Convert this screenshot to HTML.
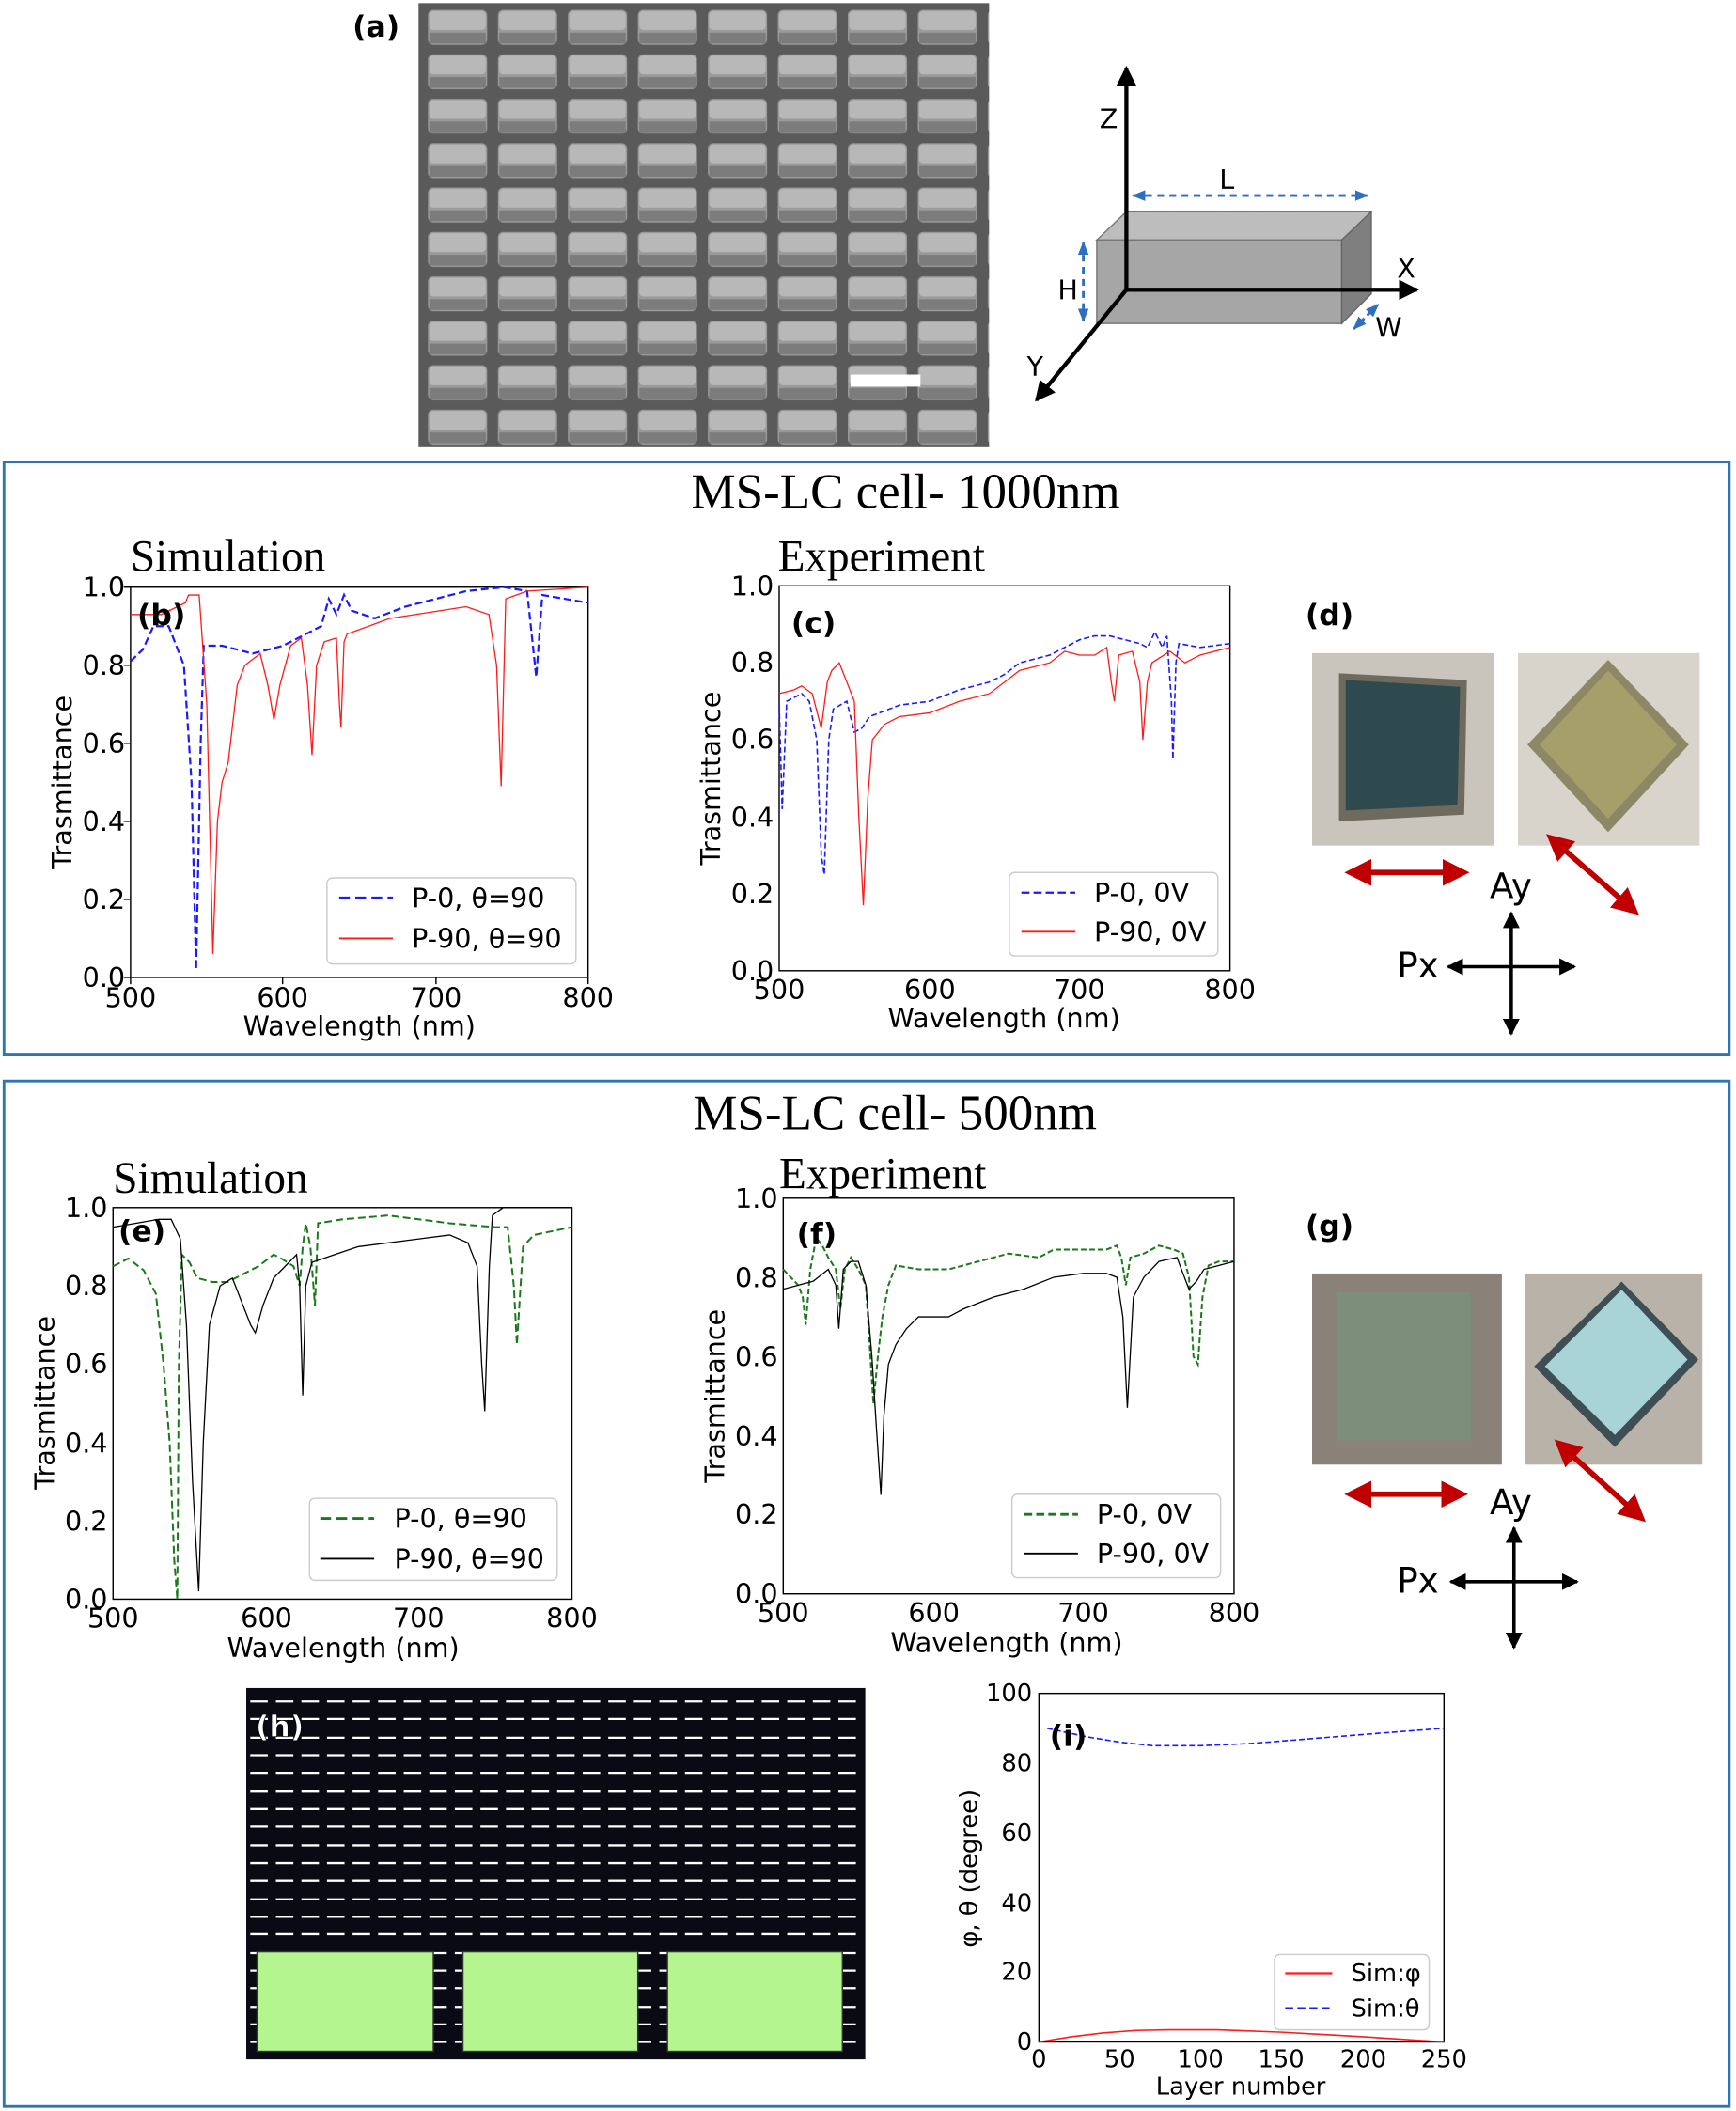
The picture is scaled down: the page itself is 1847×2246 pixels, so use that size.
<!DOCTYPE html>
<html><head><meta charset="utf-8"><style>
html,body{margin:0;padding:0;background:#fff}
svg{display:block}
text{font-family:"DejaVu Sans","Liberation Sans",sans-serif;fill:#000}
.s{font-family:"Liberation Serif",serif}
.d{vector-effect:non-scaling-stroke;fill:none}
</style></head><body>
<svg width="1847" height="2246" viewBox="0 0 1290 1568" xmlns="http://www.w3.org/2000/svg">
<defs>
<pattern id="sem" x="311" y="2" width="52" height="33" patternUnits="userSpaceOnUse">
<rect width="52" height="33" fill="#5a5a5a"/>
<rect x="7" y="5" width="44" height="26" rx="4" fill="#9a9a9a"/>
<rect x="8" y="6" width="42" height="14" rx="3" fill="#b8b8b8"/>
<rect x="8" y="22" width="42" height="8" fill="#7c7c7c"/>
</pattern>
<marker id="ab" markerWidth="5" markerHeight="5" refX="4.5" refY="2.5" orient="auto-start-reverse"><path d="M0,0L5,2.5L0,5z" fill="#000"/></marker>
<marker id="abl" markerWidth="5" markerHeight="5" refX="4.5" refY="2.5" orient="auto-start-reverse"><path d="M0,0.5L5,2.5L0,4.5z" fill="#2e6fc0"/></marker>
<marker id="ar" markerWidth="5" markerHeight="5" refX="4" refY="2.5" orient="auto-start-reverse"><path d="M0,0L5,2.5L0,5z" fill="#c00000"/></marker>
</defs>

<!-- (a) -->
<text x="262" y="27" font-size="22" font-weight="bold">(a)</text>
<rect x="311" y="2" width="424" height="330" fill="url(#sem)"/>
<rect x="632" y="278" width="52" height="9" fill="#fff"/>
<polygon points="815,178 837,157 1019,157 997,178" fill="#bdbdbd" stroke="#777"/>
<polygon points="815,178 997,178 997,240 815,240" fill="#a6a6a6" stroke="#777"/>
<polygon points="997,178 1019,157 1019,218 997,240" fill="#7f7f7f" stroke="#666"/>
<line x1="837" y1="215" x2="837" y2="50" stroke="#000" stroke-width="3" marker-end="url(#ab)"/>
<line x1="837" y1="215" x2="1053" y2="215" stroke="#000" stroke-width="3" marker-end="url(#ab)"/>
<line x1="837" y1="215" x2="770" y2="297" stroke="#000" stroke-width="3" marker-end="url(#ab)"/>
<line x1="842" y1="145" x2="1016" y2="145" stroke="#2e6fc0" stroke-width="2" stroke-dasharray="5,4" marker-start="url(#abl)" marker-end="url(#abl)"/>
<line x1="805" y1="180" x2="805" y2="238" stroke="#2e6fc0" stroke-width="2" stroke-dasharray="5,4" marker-start="url(#abl)" marker-end="url(#abl)"/>
<line x1="1006" y1="244" x2="1024" y2="226" stroke="#2e6fc0" stroke-width="2" stroke-dasharray="4,3" marker-start="url(#abl)" marker-end="url(#abl)"/>
<text x="817" y="95" font-size="20">Z</text>
<text x="906" y="140" font-size="20">L</text>
<text x="1038" y="206" font-size="20">X</text>
<text x="786" y="222" font-size="20">H</text>
<text x="1022" y="250" font-size="20">W</text>
<text x="763" y="279" font-size="20">Y</text>

<!-- Box 1 -->
<rect x="3" y="343" width="1282" height="440" fill="none" stroke="#2e75b6" stroke-width="2"/>
<text class="s" x="673" y="377" font-size="37" text-anchor="middle">MS-LC cell- 1000nm</text>

<!-- plot b -->
<text class="s" x="97" y="424" font-size="33">Simulation</text>
<rect x="97" y="436" width="340" height="290" fill="none" stroke="#000"/>
<g font-size="20" text-anchor="end">
<text x="93" y="733">0.0</text><text x="93" y="675">0.2</text><text x="93" y="617">0.4</text><text x="93" y="559">0.6</text><text x="93" y="501">0.8</text><text x="93" y="443">1.0</text>
</g>
<g stroke="#000"><line x1="92" y1="726" x2="97" y2="726"/><line x1="92" y1="668" x2="97" y2="668"/><line x1="92" y1="610" x2="97" y2="610"/><line x1="92" y1="552" x2="97" y2="552"/><line x1="92" y1="494" x2="97" y2="494"/><line x1="92" y1="436" x2="97" y2="436"/>
<line x1="97" y1="726" x2="97" y2="731"/><line x1="210" y1="726" x2="210" y2="731"/><line x1="324" y1="726" x2="324" y2="731"/><line x1="437" y1="726" x2="437" y2="731"/></g>
<g font-size="20" text-anchor="middle"><text x="97" y="748">500</text><text x="210" y="748">600</text><text x="324" y="748">700</text><text x="437" y="748">800</text></g>
<text x="267" y="769" font-size="20" text-anchor="middle">Wavelength (nm)</text>
<text transform="translate(53,581) rotate(-90)" font-size="20" text-anchor="middle">Trasmittance</text>
<g transform="translate(97,726) scale(1.1333,-290)">
<polyline class="d" stroke="#1a1aff" stroke-width="2.2" stroke-dasharray="8,4" points="0,0.81 8,0.84 15,0.9 25,0.9 35,0.8 40,0.5 43,0.02 46,0.6 48,0.85 60,0.85 80,0.83 100,0.85 115,0.88 125,0.9 130,0.97 135,0.93 140,0.98 145,0.94 160,0.92 180,0.95 220,0.99 245,1.0 260,0.99 266,0.77 270,0.98 300,0.96"/>
<polyline class="d" stroke="#ff1a1a" stroke-width="1.3" points="0,0.93 20,0.93 36,0.96 38,0.98 45,0.98 50,0.7 54,0.06 57,0.4 60,0.5 64,0.55 70,0.75 75,0.8 85,0.83 90,0.75 94,0.66 98,0.75 105,0.85 112,0.87 116,0.75 119,0.57 122,0.8 127,0.86 135,0.87 137,0.7 138,0.64 140,0.86 142,0.88 170,0.92 220,0.95 235,0.93 240,0.8 243,0.49 246,0.97 260,0.99 300,1.0"/>
</g>
<text x="102" y="464" font-size="22" font-weight="bold">(b)</text>
<rect x="243" y="652" width="185" height="64" rx="4" fill="#fff" stroke="#ccc"/>
<line x1="252" y1="667" x2="292" y2="667" stroke="#1a1aff" stroke-width="2.2" stroke-dasharray="8,4"/>
<line x1="252" y1="697" x2="292" y2="697" stroke="#ff1a1a" stroke-width="1.3"/>
<text x="306" y="674" font-size="20">P-0, θ=90</text>
<text x="306" y="704" font-size="20">P-90, θ=90</text>

<!-- plot c -->
<text class="s" x="578" y="424" font-size="33">Experiment</text>
<rect x="579" y="435" width="335" height="286" fill="none" stroke="#000"/>
<g font-size="20" text-anchor="end">
<text x="575" y="728">0.0</text><text x="575" y="671">0.2</text><text x="575" y="614">0.4</text><text x="575" y="556">0.6</text><text x="575" y="499">0.8</text><text x="575" y="442">1.0</text>
</g>
<g font-size="20" text-anchor="middle"><text x="579" y="742">500</text><text x="691" y="742">600</text><text x="802" y="742">700</text><text x="914" y="742">800</text></g>
<text x="746" y="763" font-size="20" text-anchor="middle">Wavelength (nm)</text>
<text transform="translate(535,578) rotate(-90)" font-size="20" text-anchor="middle">Trasmittance</text>
<g transform="translate(579,721) scale(1.1167,-286)">
<polyline class="d" stroke="#1a1aff" stroke-width="1.6" stroke-dasharray="6,3" points="0,0.69 2,0.42 5,0.7 10,0.71 15,0.72 20,0.7 25,0.6 28,0.3 30,0.25 33,0.6 36,0.68 45,0.7 50,0.62 55,0.63 60,0.66 80,0.69 100,0.7 120,0.73 140,0.75 150,0.77 160,0.8 180,0.82 200,0.86 210,0.87 220,0.87 230,0.86 240,0.85 245,0.84 250,0.88 255,0.84 258,0.87 261,0.7 262,0.55 264,0.8 266,0.85 280,0.84 300,0.85"/>
<polyline class="d" stroke="#ff1a1a" stroke-width="1.3" points="0,0.72 10,0.73 15,0.74 22,0.72 26,0.66 28,0.63 32,0.75 35,0.78 40,0.8 45,0.75 50,0.7 53,0.4 56,0.17 59,0.45 62,0.6 70,0.64 80,0.66 100,0.67 120,0.7 140,0.72 160,0.78 180,0.8 190,0.83 200,0.82 210,0.82 218,0.84 221,0.75 223,0.7 226,0.82 235,0.83 240,0.75 242,0.6 245,0.75 248,0.8 260,0.83 270,0.8 280,0.82 290,0.83 300,0.84"/>
</g>
<text x="588" y="470" font-size="22" font-weight="bold">(c)</text>
<rect x="750" y="648" width="155" height="62" rx="4" fill="#fff" stroke="#ccc"/>
<line x1="759" y1="663" x2="799" y2="663" stroke="#1a1aff" stroke-width="1.6" stroke-dasharray="6,3"/>
<line x1="759" y1="692" x2="799" y2="692" stroke="#ff1a1a" stroke-width="1.3"/>
<text x="813" y="670" font-size="20">P-0, 0V</text>
<text x="813" y="699" font-size="20">P-90, 0V</text>

<!-- d -->
<text x="970" y="464" font-size="22" font-weight="bold">(d)</text>
<rect x="975" y="485" width="135" height="143" fill="#c9c4bc"/>
<polygon points="995,500 1090,505 1088,605 995,610" fill="#6e6a5e"/>
<polygon points="1000,505 1085,510 1083,598 1000,602" fill="#2f4a4e"/>
<rect x="1128" y="485" width="135" height="143" fill="#d8d4cc"/>
<polygon points="1195,490 1255,553 1195,618 1135,553" fill="#8c8764"/>
<polygon points="1195,498 1246,553 1195,608 1144,553" fill="#a5a069"/>
<line x1="1003" y1="648" x2="1088" y2="648" stroke="#c00000" stroke-width="4" marker-start="url(#ar)" marker-end="url(#ar)"/>
<line x1="1152" y1="622" x2="1215" y2="677" stroke="#c00000" stroke-width="4" marker-start="url(#ar)" marker-end="url(#ar)"/>
<text x="1107" y="667" font-size="26">Ay</text>
<text x="1038" y="726" font-size="26">Px</text>
<line x1="1123" y1="768" x2="1123" y2="678" stroke="#000" stroke-width="2.5" marker-start="url(#ab)" marker-end="url(#ab)"/>
<line x1="1076" y1="718" x2="1170" y2="718" stroke="#000" stroke-width="2.5" marker-start="url(#ab)" marker-end="url(#ab)"/>

<!-- Box 2 -->
<rect x="3" y="803" width="1282" height="762" fill="none" stroke="#2e75b6" stroke-width="2"/>
<text class="s" x="665" y="839" font-size="37" text-anchor="middle">MS-LC cell- 500nm</text>

<!-- plot e -->
<text class="s" x="84" y="886" font-size="33">Simulation</text>
<rect x="84" y="897" width="341" height="291" fill="none" stroke="#000"/>
<g font-size="20" text-anchor="end">
<text x="80" y="1195">0.0</text><text x="80" y="1137">0.2</text><text x="80" y="1079">0.4</text><text x="80" y="1020">0.6</text><text x="80" y="962">0.8</text><text x="80" y="904">1.0</text>
</g>
<g font-size="20" text-anchor="middle"><text x="84" y="1209">500</text><text x="198" y="1209">600</text><text x="311" y="1209">700</text><text x="425" y="1209">800</text></g>
<text x="255" y="1231" font-size="20" text-anchor="middle">Wavelength (nm)</text>
<text transform="translate(40,1042) rotate(-90)" font-size="20" text-anchor="middle">Trasmittance</text>
<g transform="translate(84,1188) scale(1.1367,-291)">
<polyline class="d" stroke="#1a7a1a" stroke-width="2" stroke-dasharray="8,4" points="0,0.85 10,0.87 20,0.84 28,0.78 33,0.6 37,0.4 40,0.1 42,0 43,0.6 45,0.88 50,0.86 55,0.82 65,0.81 75,0.81 85,0.83 95,0.85 105,0.88 110,0.87 118,0.85 122,0.8 124,0.9 126,0.96 129,0.9 132,0.75 134,0.96 150,0.97 180,0.98 220,0.96 250,0.95 258,0.95 262,0.8 264,0.65 268,0.9 275,0.93 300,0.95"/>
<polyline class="d" stroke="#000" stroke-width="1.3" points="0,0.95 15,0.96 30,0.97 38,0.97 44,0.92 48,0.7 52,0.3 56,0.02 59,0.4 63,0.7 70,0.8 78,0.82 85,0.75 90,0.7 93,0.68 98,0.75 105,0.82 115,0.86 120,0.88 122,0.8 124,0.52 126,0.8 130,0.86 145,0.88 160,0.9 200,0.92 220,0.93 232,0.91 238,0.85 241,0.6 243,0.48 246,0.85 248,0.98 255,1.0 300,1.0"/>
</g>
<text x="88" y="922" font-size="22" font-weight="bold">(e)</text>
<rect x="230" y="1113" width="184" height="61" rx="4" fill="#fff" stroke="#ccc"/>
<line x1="238" y1="1128" x2="278" y2="1128" stroke="#1a7a1a" stroke-width="2" stroke-dasharray="8,4"/>
<line x1="238" y1="1158" x2="278" y2="1158" stroke="#000" stroke-width="1.3"/>
<text x="293" y="1135" font-size="20">P-0, θ=90</text>
<text x="293" y="1165" font-size="20">P-90, θ=90</text>

<!-- plot f -->
<text class="s" x="579" y="883" font-size="33">Experiment</text>
<rect x="582" y="890" width="335" height="294" fill="none" stroke="#000"/>
<g font-size="20" text-anchor="end">
<text x="578" y="1191">0.0</text><text x="578" y="1132">0.2</text><text x="578" y="1074">0.4</text><text x="578" y="1015">0.6</text><text x="578" y="956">0.8</text><text x="578" y="897">1.0</text>
</g>
<g font-size="20" text-anchor="middle"><text x="582" y="1205">500</text><text x="694" y="1205">600</text><text x="805" y="1205">700</text><text x="917" y="1205">800</text></g>
<text x="748" y="1227" font-size="20" text-anchor="middle">Wavelength (nm)</text>
<text transform="translate(538,1037) rotate(-90)" font-size="20" text-anchor="middle">Trasmittance</text>
<g transform="translate(582,1184) scale(1.1167,-294)">
<polyline class="d" stroke="#1a7a1a" stroke-width="2" stroke-dasharray="6,3" points="0,0.82 5,0.8 10,0.78 13,0.75 15,0.68 18,0.82 22,0.9 26,0.88 30,0.85 35,0.82 38,0.72 41,0.82 45,0.85 50,0.82 55,0.78 58,0.6 60,0.48 63,0.6 66,0.7 70,0.78 75,0.83 90,0.82 110,0.82 130,0.84 150,0.86 170,0.85 180,0.87 200,0.87 215,0.87 222,0.88 225,0.85 228,0.78 231,0.85 240,0.86 250,0.88 260,0.87 266,0.86 270,0.8 273,0.6 276,0.58 279,0.75 283,0.83 290,0.84 300,0.84"/>
<polyline class="d" stroke="#000" stroke-width="1.3" points="0,0.77 10,0.78 20,0.79 30,0.82 35,0.78 37,0.67 40,0.82 45,0.84 50,0.84 55,0.78 59,0.6 62,0.42 65,0.25 67,0.45 70,0.58 75,0.63 82,0.67 90,0.7 100,0.7 110,0.7 120,0.72 140,0.75 160,0.77 180,0.8 200,0.81 215,0.81 222,0.8 226,0.7 229,0.47 233,0.75 240,0.8 250,0.84 262,0.85 267,0.8 270,0.77 275,0.79 280,0.82 290,0.83 300,0.84"/>
</g>
<text x="592" y="924" font-size="22" font-weight="bold">(f)</text>
<rect x="752" y="1110" width="155" height="62" rx="4" fill="#fff" stroke="#ccc"/>
<line x1="761" y1="1125" x2="801" y2="1125" stroke="#1a7a1a" stroke-width="2" stroke-dasharray="6,3"/>
<line x1="761" y1="1154" x2="801" y2="1154" stroke="#000" stroke-width="1.3"/>
<text x="815" y="1132" font-size="20">P-0, 0V</text>
<text x="815" y="1161" font-size="20">P-90, 0V</text>

<!-- g -->
<text x="970" y="918" font-size="22" font-weight="bold">(g)</text>
<rect x="975" y="946" width="141" height="142" fill="#8a8278"/>
<rect x="993" y="960" width="100" height="110" fill="#7b8f7a"/>
<rect x="1133" y="946" width="132" height="142" fill="#b8b2a8"/>
<polygon points="1205,952 1262,1010 1200,1075 1140,1015" fill="#3e4e55"/>
<polygon points="1205,958 1254,1010 1200,1066 1148,1015" fill="#a8d4d8"/>
<line x1="1003" y1="1110" x2="1087" y2="1110" stroke="#c00000" stroke-width="4" marker-start="url(#ar)" marker-end="url(#ar)"/>
<line x1="1158" y1="1072" x2="1220" y2="1128" stroke="#c00000" stroke-width="4" marker-start="url(#ar)" marker-end="url(#ar)"/>
<text x="1107" y="1125" font-size="26">Ay</text>
<text x="1038" y="1183" font-size="26">Px</text>
<line x1="1125" y1="1224" x2="1125" y2="1135" stroke="#000" stroke-width="2.5" marker-start="url(#ab)" marker-end="url(#ab)"/>
<line x1="1078" y1="1175" x2="1172" y2="1175" stroke="#000" stroke-width="2.5" marker-start="url(#ab)" marker-end="url(#ab)"/>

<!-- h -->
<rect x="183" y="1254" width="460" height="276" fill="#0a0a14"/>
<g stroke="#fff" stroke-width="1.6" stroke-dasharray="13,6">
<line x1="186" y1="1264" x2="642" y2="1264"/><line x1="186" y1="1277" x2="642" y2="1277"/><line x1="186" y1="1291" x2="642" y2="1291"/><line x1="186" y1="1304" x2="642" y2="1304"/><line x1="186" y1="1317" x2="642" y2="1317"/><line x1="186" y1="1331" x2="642" y2="1331"/><line x1="186" y1="1344" x2="642" y2="1344"/><line x1="186" y1="1357" x2="642" y2="1357"/><line x1="186" y1="1371" x2="642" y2="1371"/><line x1="186" y1="1384" x2="642" y2="1384"/><line x1="186" y1="1397" x2="642" y2="1397"/><line x1="186" y1="1411" x2="642" y2="1411"/><line x1="186" y1="1424" x2="642" y2="1424"/><line x1="186" y1="1437" x2="642" y2="1437"/><line x1="186" y1="1451" x2="642" y2="1451"/><line x1="186" y1="1464" x2="642" y2="1464"/><line x1="186" y1="1477" x2="642" y2="1477"/><line x1="186" y1="1491" x2="642" y2="1491"/><line x1="186" y1="1504" x2="642" y2="1504"/><line x1="186" y1="1517" x2="642" y2="1517"/>
</g>
<rect x="191" y="1450" width="131" height="74" fill="#b5f58f" stroke="#333"/>
<rect x="344" y="1450" width="130" height="74" fill="#b5f58f" stroke="#333"/>
<rect x="496" y="1450" width="130" height="74" fill="#b5f58f" stroke="#333"/>
<text x="190" y="1290" font-size="22" font-weight="bold" style="fill:#fff;stroke:#000;stroke-width:0.5">(h)</text>

<!-- i -->
<rect x="772" y="1258" width="301" height="259" fill="none" stroke="#000"/>
<g font-size="18" text-anchor="end">
<text x="767" y="1523">0</text><text x="767" y="1471">20</text><text x="767" y="1420">40</text><text x="767" y="1368">60</text><text x="767" y="1316">80</text><text x="767" y="1264">100</text>
</g>
<g font-size="18" text-anchor="middle"><text x="772" y="1536">0</text><text x="832" y="1536">50</text><text x="892" y="1536">100</text><text x="952" y="1536">150</text><text x="1013" y="1536">200</text><text x="1073" y="1536">250</text></g>
<text x="922" y="1556" font-size="18" text-anchor="middle">Layer number</text>
<text transform="translate(726,1388) rotate(-90)" font-size="18" text-anchor="middle">φ, θ (degree)</text>
<g transform="translate(772,1517) scale(1.204,-2.59)">
<polyline class="d" stroke="#1a1aff" stroke-width="1.6" stroke-dasharray="6,3" points="5,90 30,87.5 50,86 70,85 100,85 130,85.6 160,86.7 200,88.2 250,90"/>
<polyline class="d" stroke="#ff1a1a" stroke-width="1.6" points="0,0 20,1.5 40,2.6 60,3.3 80,3.5 110,3.5 150,2.8 200,1.5 250,0"/>
</g>
<text x="780" y="1297" font-size="22" font-weight="bold">(i)</text>
<rect x="947" y="1452" width="115" height="56" rx="4" fill="#fff" stroke="#ccc"/>
<line x1="955" y1="1466" x2="990" y2="1466" stroke="#ff1a1a" stroke-width="1.6"/>
<line x1="955" y1="1492" x2="990" y2="1492" stroke="#1a1aff" stroke-width="1.6" stroke-dasharray="6,3"/>
<text x="1004" y="1472" font-size="18">Sim:φ</text>
<text x="1004" y="1498" font-size="18">Sim:θ</text>
</svg>
</body></html>
